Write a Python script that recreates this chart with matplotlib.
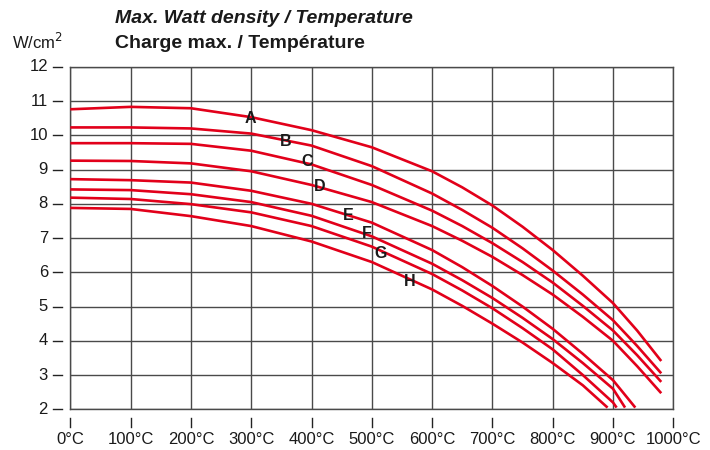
import matplotlib
matplotlib.use("Agg")
import matplotlib.pyplot as plt
from matplotlib import font_manager

names = {f.name for f in font_manager.fontManager.ttflist}
narrow = 'Liberation Sans Narrow' if 'Liberation Sans Narrow' in names else 'Liberation Sans'
plt.rcParams['font.family'] = [narrow, 'DejaVu Sans']

# Data (temperature °C, watt density W/cm²)
temps_A = [0, 100, 200, 300, 400, 500, 600, 650, 700, 750, 800, 850, 900, 940, 980]
watts_A = [10.76, 10.83, 10.79, 10.53, 10.15, 9.65, 8.95, 8.48, 7.95, 7.33, 6.65, 5.9, 5.1, 4.3, 3.41]
temps_B = [0, 100, 200, 300, 400, 500, 600, 650, 700, 750, 800, 850, 900, 940, 980]
watts_B = [10.23, 10.23, 10.2, 10.05, 9.7, 9.1, 8.3, 7.82, 7.3, 6.7, 6.05, 5.35, 4.6, 3.85, 3.05]
temps_C = [0, 100, 200, 300, 400, 500, 600, 650, 700, 750, 800, 850, 900, 940, 980]
watts_C = [9.77, 9.77, 9.75, 9.55, 9.15, 8.55, 7.8, 7.35, 6.85, 6.3, 5.7, 5.02, 4.3, 3.58, 2.8]
temps_D = [0, 100, 200, 300, 400, 500, 600, 650, 700, 750, 800, 850, 900, 940, 980]
watts_D = [9.26, 9.25, 9.18, 8.95, 8.55, 8.05, 7.35, 6.92, 6.45, 5.92, 5.35, 4.7, 4.0, 3.26, 2.47]
temps_E = [0, 100, 200, 300, 400, 500, 600, 650, 700, 750, 800, 850, 900, 937]
watts_E = [8.72, 8.69, 8.62, 8.38, 8.0, 7.45, 6.65, 6.15, 5.6, 5.0, 4.35, 3.62, 2.85, 2.05]
temps_F = [0, 100, 200, 300, 400, 500, 600, 650, 700, 750, 800, 850, 900, 920]
watts_F = [8.42, 8.40, 8.28, 8.05, 7.65, 7.05, 6.25, 5.77, 5.25, 4.67, 4.05, 3.35, 2.6, 2.05]
temps_G = [0, 100, 200, 300, 400, 500, 600, 650, 700, 750, 800, 850, 900, 906]
watts_G = [8.18, 8.14, 7.99, 7.75, 7.35, 6.75, 5.95, 5.47, 4.95, 4.37, 3.75, 3.0, 2.2, 2.05]
temps_H = [0, 100, 200, 300, 400, 500, 600, 650, 700, 750, 800, 850, 891]
watts_H = [7.88, 7.85, 7.64, 7.35, 6.9, 6.3, 5.5, 5.02, 4.5, 3.95, 3.35, 2.7, 2.05]

curve_names = ['A', 'B', 'C', 'D', 'E', 'F', 'G', 'H']
label_temps = [298, 358, 392, 414, 461, 491, 515, 563]
label_watts = [10.5, 9.82, 9.23, 8.5, 7.67, 7.12, 6.55, 5.73]

x_ticks = [0, 100, 200, 300, 400, 500, 600, 700, 800, 900, 1000]
x_labels = ['0°C', '100°C', '200°C', '300°C', '400°C', '500°C', '600°C',
            '700°C', '800°C', '900°C', '1000°C']
y_ticks = [2, 3, 4, 5, 6, 7, 8, 9, 10, 11, 12]

title_en = 'Max. Watt density / Temperature'
title_fr = 'Charge max. / Température'
unit = 'W/cm$^2$'

series = [(temps_A, watts_A), (temps_B, watts_B), (temps_C, watts_C),
          (temps_D, watts_D), (temps_E, watts_E), (temps_F, watts_F),
          (temps_G, watts_G), (temps_H, watts_H)]

fig = plt.figure(figsize=(7.1, 4.5), dpi=100)
ax = fig.add_axes([70.3 / 710, 1 - 409.3 / 450, 603 / 710, 342.5 / 450])
ax.set_xlim(0, 1000)
ax.set_ylim(2, 12)

grid_c = '#4a4a4a'
for t in x_ticks:
    ax.axvline(t, color=grid_c, lw=1.0, zorder=1)
for w in y_ticks:
    ax.axhline(w, color=grid_c, lw=1.0, zorder=1)
for s in ax.spines.values():
    s.set_color(grid_c)
    s.set_linewidth(1.0)

red = '#e2001a'
for tx, wy in series:
    ax.plot(tx, wy, color=red, lw=1.9, solid_capstyle='butt',
            solid_joinstyle='round', zorder=3)

for n, tx, wy in zip(curve_names, label_temps, label_watts):
    ax.text(tx, wy, n, ha='center', va='center', fontsize=11.5,
            fontweight='bold', color='#1a1a1a', zorder=4)

ax.set_xticks(x_ticks)
ax.set_yticks(y_ticks)
ax.set_xticklabels([])
ax.set_yticklabels([])
ax.tick_params(length=0)

xt = ax.get_xaxis_transform()
yt = ax.get_yaxis_transform()
for t, lab in zip(x_ticks, x_labels):
    ax.plot([t, t], [-0.026, -0.052], transform=xt, color='#222222', lw=1.0,
            clip_on=False)
    ax.text(t, -0.087, lab, transform=xt, ha='center', va='center',
            fontsize=12, color='#1a1a1a')
for w in y_ticks:
    ax.plot([-0.029, -0.014], [w, w], transform=yt, color='#222222', lw=1.0,
            clip_on=False)
    ax.text(-0.037, w, str(w), transform=yt, ha='right', va='center',
            fontsize=12, color='#1a1a1a')

fig.text(115 / 710, 1 - 18.5 / 450, title_en, ha='left', va='center',
         fontsize=14, fontweight='bold', fontstyle='italic', color='#1a1a1a')
fig.text(115 / 710, 1 - 43 / 450, title_fr, ha='left', va='center',
         fontsize=14, fontweight='bold', color='#1a1a1a')
fig.text(12 / 710, 1 - 42 / 450, unit, ha='left', va='center',
         fontsize=12, color='#1a1a1a')

fig.savefig('out.png', dpi=100)
